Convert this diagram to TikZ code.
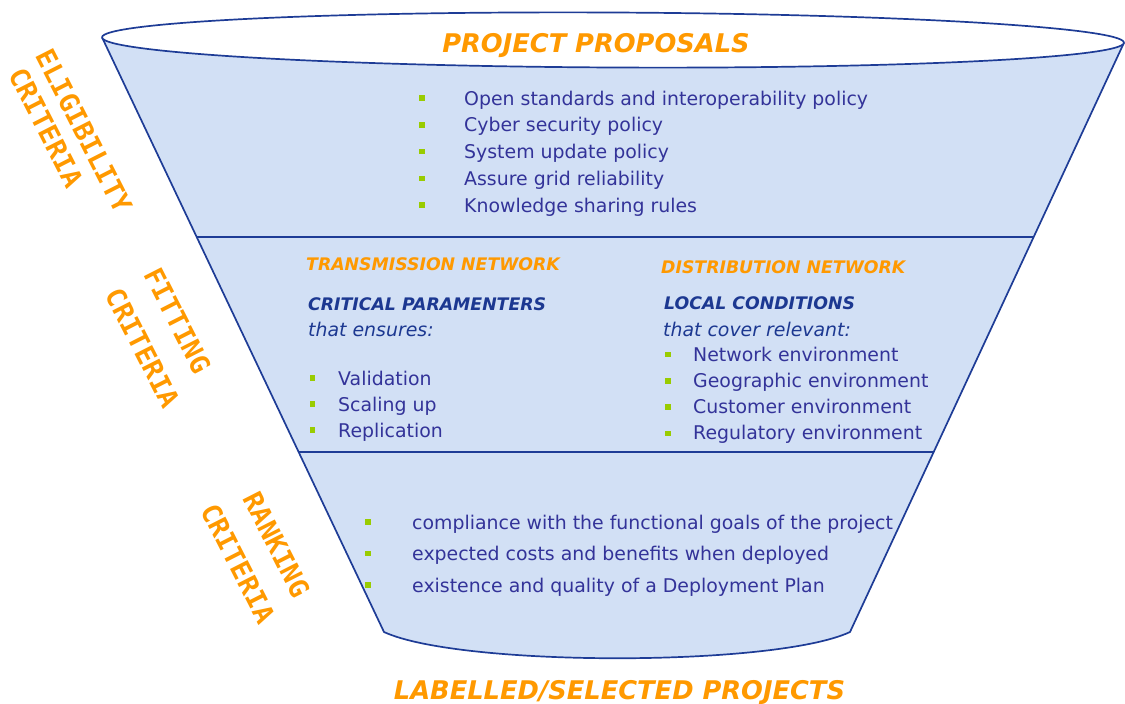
\documentclass[tikz,border=0pt]{standalone}
\usepackage{fontspec}
\setmainfont{DejaVu Sans}[ItalicFont={DejaVu Sans Oblique},BoldFont={DejaVu Sans Bold},BoldItalicFont={DejaVu Sans Bold Oblique}]
\newfontfamily\sidefont{DejaVu Sans Mono}[BoldFont={DejaVu Sans Mono Bold}]
\definecolor{fillblue}{RGB}{210,224,245}
\definecolor{lineblue}{RGB}{30,60,150}
\definecolor{txtblue}{RGB}{51,51,153}
\definecolor{hdblue}{RGB}{28,56,145}
\definecolor{orng}{RGB}{255,153,0}
\definecolor{bgreen}{RGB}{153,204,0}
\begin{document}
\begin{tikzpicture}[x=1pt,y=-1pt,
  edge/.style={draw=lineblue,line width=1.7pt,line join=round},
  item/.style={inner sep=0pt,anchor=base west,text=txtblue,font=\fontsize{18.9}{22}\selectfont},
  sub/.style={inner sep=0pt,anchor=base west,text=hdblue,font=\fontsize{18.9}{22}\selectfont\itshape},
  hdo/.style={inner sep=0pt,anchor=base west,text=orng,font=\fontsize{17.3}{20}\selectfont\bfseries\itshape},
  hdb/.style={inner sep=0pt,anchor=base west,text=hdblue,font=\fontsize{17.3}{20}\selectfont\bfseries\itshape},
  ttl/.style={inner sep=0pt,anchor=base,text=orng,font=\fontsize{25.7}{30}\selectfont\bfseries\itshape},
  side/.style={inner sep=0pt,anchor=center,text=orng,rotate=-63,font=\fontsize{27}{30}\selectfont\sidefont\bfseries},
  bul/.style={fill=bgreen,inner sep=0pt,minimum size=5.5pt}]
\useasboundingbox (0,0) rectangle (1125,704);
% funnel
\coordinate (L0) at (102,37.3);
\coordinate (R0) at (1124,42.7);
\coordinate (L3) at (384,632);
\coordinate (R3) at (850,632);
\fill[fillblue] (L0) -- (R0) -- (R3) .. controls (775,667) and (460,667) .. (L3) -- cycle;
\draw[edge] (L0) -- (L3) .. controls (460,667) and (775,667) .. (R3) -- (R0);
\coordinate (L1) at (intersection of L0--L3 and 0,237--10,237);
\coordinate (R1) at (intersection of R0--R3 and 0,237--10,237);
\coordinate (L2) at (intersection of L0--L3 and 0,452--10,452);
\coordinate (R2) at (intersection of R0--R3 and 0,452--10,452);
\draw[edge] (L1) -- (R1);
\draw[edge] (L2) -- (R2);
\draw[edge,fill=white,rotate around={-0.3:(613,40)}] (613,40) ellipse [x radius=511, y radius=27.5];
% titles
\node[ttl] (pp) at (596,52) {PROJECT PROPOSALS};
\node[ttl] (ls) at (619.5,699) {LABELLED/SELECTED PROJECTS};
% eligibility list
\foreach \t [count=\i from 0] in {Open standards and interoperability policy, Cyber security policy, System update policy, Assure grid reliability, Knowledge sharing rules} {
  \node[bul] (eb\i) at (422,{98+26.8*\i}) {};
  \node[item] (e\i) at (464,{105+26.8*\i}) {\t};
}
% transmission
\node[hdo] (tn) at (306,270) {TRANSMISSION NETWORK};
\node[hdb] (cp) at (308,310) {CRITICAL PARAMENTERS};
\node[sub] (te) at (308,336) {that ensures:};
\foreach \t [count=\i from 0] in {Validation, Scaling up, Replication} {
  \node[bul] (tb\i) at (312.5,{378+26*\i}) {};
  \node[item] (t\i) at (338,{385+26*\i}) {\t};
}
% distribution
\node[hdo] (dn) at (661,273) {DISTRIBUTION NETWORK};
\node[hdb] (lc) at (664,309) {LOCAL CONDITIONS};
\node[sub] (tc) at (663,336) {that cover relevant:};
\foreach \t [count=\i from 0] in {Network environment, Geographic environment, Customer environment, Regulatory environment} {
  \node[bul] (db\i) at (668,{354.5+26.3*\i}) {};
  \node[item] (d\i) at (693,{361+26.3*\i}) {\t};
}
% ranking list
\foreach \t [count=\i from 0] in {compliance with the functional goals of the project, expected costs and benefits when deployed, existence and quality of a Deployment Plan} {
  \node[bul] (rb\i) at (368,{522+31.5*\i}) {};
  \node[item] (r\i) at (412,{529+31.5*\i}) {\t};
}
% side labels
\node[side] (s1a) at (84,131) {ELIGIBILITY};
\node[side] (s1b) at (46,127.5) {CRITERIA};
\node[side] (s2a) at (177.5,320.5) {FITTING};
\node[side] (s2b) at (142.5,348) {CRITERIA};
\node[side] (s3a) at (276.5,544.5) {RANKING};
\node[side] (s3b) at (238,563.5) {CRITERIA};
\end{tikzpicture}
\end{document}
